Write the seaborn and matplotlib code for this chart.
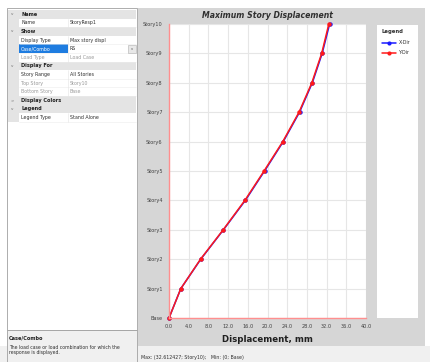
import numpy as np
import pandas as pd
import matplotlib
matplotlib.use("Agg")
import matplotlib.pyplot as plt
from matplotlib.patches import Rectangle
from matplotlib.lines import Line2D
import seaborn as sns

# Story levels and peak displacements (mm)
stories = ["Base", "Story1", "Story2", "Story3", "Story4", "Story5",
           "Story6", "Story7", "Story8", "Story9", "Story10"]
x_dir = [0.0, 2.4, 6.45, 11.05, 15.5, 19.4, 23.2, 26.5, 29.1, 31.1, 32.61]
y_dir = [0.0, 2.4, 6.4, 11.0, 15.4, 19.3, 23.1, 26.4, 29.0, 31.0, 32.45]
directions = ["X-Dir", "Y-Dir"]
x_ticks = [0.0, 4.0, 8.0, 12.0, 16.0, 20.0, 24.0, 28.0, 32.0, 36.0, 40.0]

# property grid rows: (kind, label, value)
grid_rows = [
    ("head", "Name", ""),
    ("row", "Name", "StoryResp1"),
    ("head", "Show", ""),
    ("row", "Display Type", "Max story displ"),
    ("sel", "Case/Combo", "RS"),
    ("dim", "Load Type", "Load Case"),
    ("head", "Display For", ""),
    ("row", "Story Range", "All Stories"),
    ("dim", "Top Story", "Story10"),
    ("dim", "Bottom Story", "Base"),
    ("closed", "Display Colors", ""),
    ("head", "Legend", ""),
    ("row", "Legend Type", "Stand Alone"),
]

W, H = 430, 362
sns.set_theme(style="white")
plt.rcParams["font.family"] = ["DejaVu Sans"]

fig = plt.figure(figsize=(W / 100, H / 100), dpi=100)
fig.patch.set_facecolor("white")


def fx(px):
    return px / W


def fy(py):
    return 1 - py / H


def rect(x0, y0, x1, y1, fc, ec="none", lw=0.6, z=-5):
    fig.patches.append(Rectangle((fx(x0), fy(y1)), fx(x1) - fx(x0),
                                 fy(y0) - fy(y1), transform=fig.transFigure,
                                 facecolor=fc, edgecolor=ec, linewidth=lw,
                                 zorder=z))


def hline(x0, x1, y, color, lw=0.4, z=-3):
    fig.lines.append(Line2D([fx(x0), fx(x1)], [fy(y), fy(y)],
                            transform=fig.transFigure, color=color, lw=lw,
                            zorder=z))


def vline(x, y0, y1, color, lw=0.4, z=-3):
    fig.lines.append(Line2D([fx(x), fx(x)], [fy(y0), fy(y1)],
                            transform=fig.transFigure, color=color, lw=lw,
                            zorder=z))


# window chrome
rect(0, 346, W, H, "#f0f0f0", z=-10)
rect(138, 8, 425, 346, "#d6d6d6", z=-10)
rect(7, 8, 137, 330, "white", ec="#a0a0a0", z=-10)
rect(7, 330, 137, H, "#f0f0f0", ec="#a0a0a0", z=-10)

# property grid
row_h = 8.6
y0 = 10
for i, (kind, label, value) in enumerate(grid_rows):
    top = y0 + i * row_h
    bot = top + row_h
    mid = (top + bot) / 2
    rect(7.5, top, 19, bot, "#e4e4e4", z=-4)
    if kind in ("head", "closed"):
        rect(19, top, 136, bot, "#e4e4e4", z=-4)
        fig.text(fx(12), fy(mid), ">" if kind == "closed" else "v",
                 fontsize=3, color="#707070", ha="center", va="center")
        fig.text(fx(21), fy(mid), label, fontsize=3.6, fontweight="bold",
                 color="#202020", va="center")
    else:
        if kind == "sel":
            rect(19, top, 68, bot, "#1e7ce0", z=-4)
            rect(128, top + 0.5, 136, bot - 0.5, "#e8e8e8", ec="#b0b0b0",
                 lw=0.4, z=-3)
            fig.text(fx(132), fy(mid), "v", fontsize=2.6, color="#505050",
                     ha="center", va="center")
        c_lab = "white" if kind == "sel" else ("#9a9a9a" if kind == "dim" else "#303030")
        c_val = "#9a9a9a" if kind == "dim" else "#303030"
        fig.text(fx(21), fy(mid), label, fontsize=3.4, color=c_lab, va="center")
        fig.text(fx(70), fy(mid), value, fontsize=3.4, color=c_val, va="center")
        hline(19, 136, bot, "#ececec")
        vline(68, top, bot, "#e4e4e4")

# description box
fig.text(fx(9), fy(338), "Case/Combo", fontsize=3.6, fontweight="bold",
         color="#202020", va="center")
fig.text(fx(9), fy(350), "The load case or load combination for which the\n"
         "response is displayed.", fontsize=3.3, color="#303030",
         va="center", linespacing=1.1)

# status line
fig.text(fx(141), fy(357), "Max: (32.612427; Story10);   Min: (0; Base)",
         fontsize=3.4, color="#303030", va="center")

# main chart
ax = fig.add_axes([fx(169), fy(318), fx(366) - fx(169), fy(24) - fy(318)])
ax.set_zorder(1)
ax.set_facecolor("white")

df = pd.DataFrame({
    "disp": x_dir + y_dir,
    "level": list(range(len(stories))) * 2,
    "dir": [directions[0]] * len(stories) + [directions[1]] * len(stories),
})
palette = {"X-Dir": "#1a1aff", "Y-Dir": "#ff1a1a"}
sns.lineplot(data=df, x="disp", y="level", hue="dir", palette=palette,
             sort=False, estimator=None, marker="o", markersize=3.2,
             markeredgewidth=0, linewidth=1.1, legend=False, ax=ax,
             clip_on=False)

ax.set_xlim(0, 40)
ax.set_ylim(0, len(stories) - 1)
ax.set_xticks(x_ticks)
ax.set_xticklabels([f"{v:.1f}" for v in x_ticks])
ax.set_yticks(range(len(stories)))
ax.set_yticklabels(stories)
ax.tick_params(axis="both", labelsize=3.6, labelcolor="#404040", length=2,
               width=0.5, color="#505050", pad=2.5, direction="out")
ax.grid(True, color="#e6e6e6", linewidth=0.8)
ax.set_axisbelow(True)
for side in ("top", "right"):
    ax.spines[side].set_visible(False)
for side in ("left", "bottom"):
    ax.spines[side].set_color("#ff8f8f")
    ax.spines[side].set_linewidth(1.0)
ax.set_xlabel("")
ax.set_ylabel("")

fig.text(fx(268), fy(15), "Maximum Story Displacement", fontsize=5.6,
         fontweight="bold", fontstyle="italic", color="#303030",
         ha="center", va="center")
fig.text(fx(267), fy(339), "Displacement, mm", fontsize=6.2,
         fontweight="bold", color="#202020", ha="center", va="center")

# stand-alone legend panel
rect(377, 25, 418, 318, "white", z=-2)
fig.text(fx(381), fy(32), "Legend", fontsize=3.8, fontweight="bold",
         color="#303030", va="center")
for k, d in enumerate(directions):
    yy = 43 + k * 9.5
    hline(382, 396, yy, palette[d], lw=1.1, z=-1)
    fig.lines.append(Line2D([fx(389)], [fy(yy)], transform=fig.transFigure,
                            color=palette[d], marker="o", markersize=3,
                            markeredgewidth=0, zorder=-1))
    fig.text(fx(399), fy(yy), d, fontsize=3.4, color="#303030", va="center")

fig.savefig("out.png", dpi=100, facecolor=fig.get_facecolor())
